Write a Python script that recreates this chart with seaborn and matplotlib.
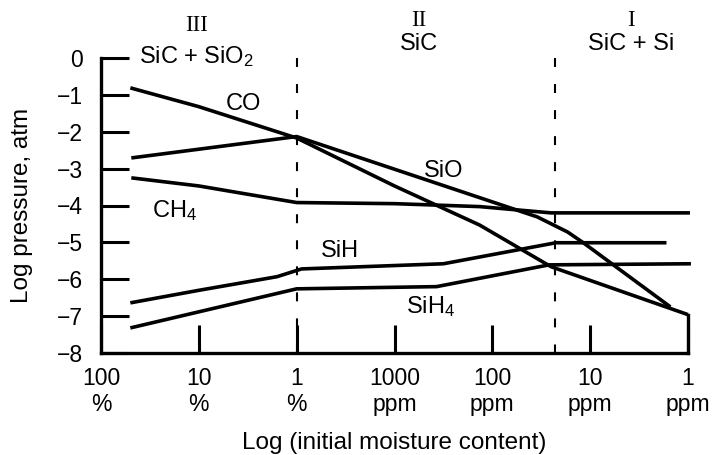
import numpy as np
import pandas as pd
import matplotlib
matplotlib.use("Agg")
import matplotlib.pyplot as plt
import seaborn as sns

# ---------------- data ----------------
tick_pos = [0, 1, 2, 3, 4, 5, 6]
tick_labels = ["100\n%", "10\n%", "1\n%", "1000\nppm", "100\nppm", "10\nppm", "1\nppm"]
ytick_vals = [0, -1, -2, -3, -4, -5, -6, -7, -8]
ytick_labels = ["0", "\u22121", "\u22122", "\u22123", "\u22124", "\u22125", "\u22126", "\u22127", "\u22128"]

co_x = [0.30, 1.0, 2.0, 3.0, 3.87, 4.6, 6.0]
co_y = [-0.81, -1.32, -2.17, -3.47, -4.53, -5.66, -6.96]

sio_x = [0.31, 2.0, 4.46, 4.77, 4.93, 5.82]
sio_y = [-2.71, -2.13, -4.31, -4.72, -5.01, -6.75]

ch4_x = [0.31, 1.0, 2.0, 3.0, 3.87, 4.6, 6.02]
ch4_y = [-3.25, -3.47, -3.92, -3.95, -4.03, -4.2, -4.2]

sih_x = [0.30, 1.0, 1.8, 2.05, 3.5, 4.65, 5.78]
sih_y = [-6.64, -6.3, -5.93, -5.72, -5.58, -5.01, -5.01]

sih4_x = [0.30, 2.0, 3.43, 4.58, 6.03]
sih4_y = [-7.32, -6.26, -6.2, -5.61, -5.58]

boundaries = [2.0, 4.64]

species_labels = ["CO", "SiO", "CH$_4$", "SiH", "SiH$_4$"]
label_x = [1.46, 3.50, 0.52, 2.25, 3.12]
label_y = [-1.41, -3.22, -4.31, -5.39, -6.91]
label_ha = ["center", "center", "left", "left", "left"]

region_numerals = ["III", "II", "I"]
region_phases = ["SiC + SiO$_2$", "SiC", "SiC + Si"]
region_x = [0.98, 3.25, 5.42]
numeral_y = [0.72, 0.86, 0.86]
phase_y = [-0.14, 0.22, 0.22]

# ---------------- frame ----------------
series = {"CO": (co_x, co_y), "SiO": (sio_x, sio_y), "CH4": (ch4_x, ch4_y),
          "SiH": (sih_x, sih_y), "SiH4": (sih4_x, sih4_y)}
rows = []
for name, (xs, ys) in series.items():
    for xv, yv in zip(xs, ys):
        rows.append({"species": name, "pos": xv, "logp": yv})
df = pd.DataFrame(rows)

sns.set_theme(style="white")
plt.rcParams["font.family"] = ["Liberation Sans", "DejaVu Sans"]
plt.rcParams["mathtext.fontset"] = "custom"
plt.rcParams["mathtext.rm"] = "Liberation Sans"
plt.rcParams["mathtext.it"] = "Liberation Sans:italic"
plt.rcParams["mathtext.bf"] = "Liberation Sans:bold"
for k in ["text.color", "axes.labelcolor", "xtick.color", "ytick.color", "axes.edgecolor"]:
    plt.rcParams[k] = "black"

fig = plt.figure(figsize=(7.16, 4.55), dpi=100)
ax = fig.add_axes([101 / 716, 1 - 353 / 455, (688 - 101) / 716, (353 - 58) / 455])

sns.lineplot(data=df, x="pos", y="logp", hue="species", units="species",
             estimator=None, sort=False, legend=False,
             palette={k: "black" for k in series}, linewidth=2.6, ax=ax)
for ln in ax.lines:
    ln.set_clip_on(False)
    ln.set_solid_capstyle("butt")

for b in boundaries:
    ax.plot([b, b], [0, -8], color="black", lw=1.5,
            linestyle=(0, (4.3, 8.2)), clip_on=False)

ax.set_xlim(0, 6)
ax.set_ylim(-8, 0)
ax.set_xticks(tick_pos)
ax.set_xticklabels(tick_labels, fontsize=16.5, linespacing=1.15)
ax.set_yticks(ytick_vals)
ax.set_yticklabels(ytick_labels, fontsize=16.5)
ax.tick_params(axis="both", direction="in", length=20, width=2.2, color="black",
               bottom=True, left=True, top=False, right=False,
               labelcolor="black")
ax.tick_params(axis="x", pad=10)
ax.tick_params(axis="y", pad=13)

ax.spines["top"].set_visible(False)
for s in ["left", "bottom", "right"]:
    ax.spines[s].set_linewidth(2.4)
    ax.spines[s].set_color("black")
ax.spines["right"].set_bounds(-8, co_y[-1])

ax.set_xlabel("Log (initial moisture content)", fontsize=17.5, color="black")
ax.set_ylabel("Log pressure, atm", fontsize=17.5, color="black")
ax.xaxis.set_label_coords(0.5, -0.268)
ax.yaxis.set_label_coords(-0.116, 0.5)

for t, xv, yv, ha in zip(species_labels, label_x, label_y, label_ha):
    ax.text(xv, yv, t, fontsize=17, ha=ha, va="baseline", color="black")

for num, ph, xv, ny, py in zip(region_numerals, region_phases, region_x, numeral_y, phase_y):
    ax.text(xv, ny, num, fontsize=16.5, family=["Liberation Serif", "DejaVu Serif"],
            ha="center", va="baseline", color="black", clip_on=False)
    ax.text(xv, py, ph, fontsize=17, ha="center", va="baseline", color="black",
            clip_on=False)

fig.savefig("out.png", dpi=100)
